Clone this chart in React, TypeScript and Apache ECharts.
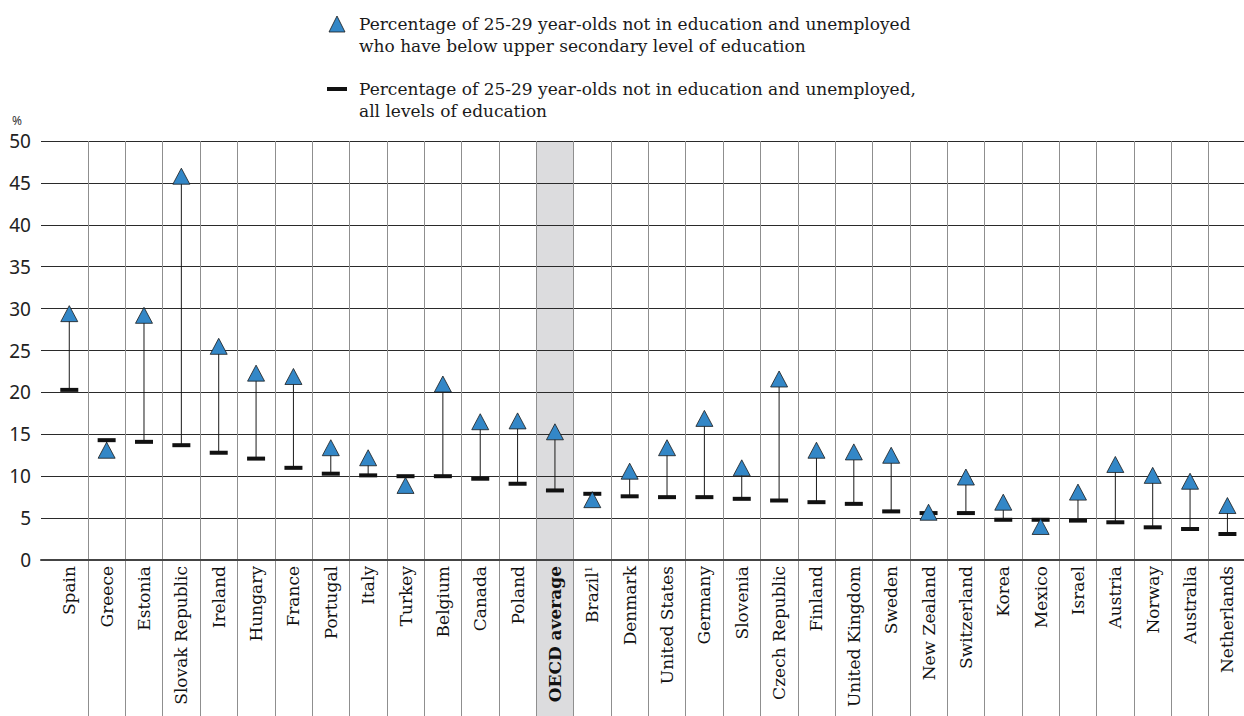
import React, { useEffect, useRef } from "react";
import * as echarts from "echarts";

const categories = [
  "Spain", "Greece", "Estonia", "Slovak Republic", "Ireland", "Hungary", "France",
  "Portugal", "Italy", "Turkey", "Belgium", "Canada", "Poland", "OECD average",
  "Brazil", "Denmark", "United States", "Germany", "Slovenia", "Czech Republic",
  "Finland", "United Kingdom", "Sweden", "New Zealand", "Switzerland", "Korea",
  "Mexico", "Israel", "Austria", "Norway", "Australia", "Netherlands",
];

const belowUpperSecondary = [
  29.4, 13.1, 29.2, 45.8, 25.5, 22.3, 21.9, 13.4, 12.2, 8.9, 21.0, 16.5, 16.6, 15.3,
  7.2, 10.6, 13.4, 16.9, 11.0, 21.6, 13.1, 12.9, 12.5, 5.7, 9.9, 6.9, 4.0, 8.1,
  11.4, 10.1, 9.4, 6.5,
];

const allLevels = [
  20.3, 14.3, 14.1, 13.7, 12.8, 12.1, 11.0, 10.3, 10.1, 10.0, 10.0, 9.7, 9.1, 8.3,
  7.9, 7.6, 7.5, 7.5, 7.3, 7.1, 6.9, 6.7, 5.8, 5.6, 5.6, 4.8, 4.8, 4.7,
  4.5, 3.9, 3.7, 3.1,
];

const yTicks = { min: 0, max: 50, interval: 5 };
const highlightCategory = "OECD average";
const footnoteCategory = "Brazil";

const legendText1 =
  "Percentage of 25-29 year-olds not in education and unemployed\nwho have below upper secondary level of education";
const legendText2 =
  "Percentage of 25-29 year-olds not in education and unemployed,\nall levels of education";

const SERIF = "'DejaVu Serif', 'Liberation Serif', serif";
const SANS = "'Noto Sans', 'Open Sans', sans-serif";
const BLUE = "#3387c7";

export default function App() {
  const ref = useRef<HTMLDivElement>(null);

  useEffect(() => {
    if (!ref.current) return;
    const chart = echarts.init(ref.current, null, { renderer: "svg" });

    const plotTop = 141;
    const zeroY = 560;
    const fullH = 716;
    const pxPerUnit = (zeroY - plotTop) / (yTicks.max - yTicks.min);
    const bottomExtent = -(fullH - zeroY) / pxPerUnit;

    const option: any = {
      animation: false,
      backgroundColor: "#ffffff",
      grid: [
        { left: 41, top: plotTop, width: 1205, height: zeroY - plotTop, containLabel: false, outerBoundsMode: "none" },
        { left: 50.6, top: plotTop, width: 1195.5, height: fullH - plotTop, containLabel: false, outerBoundsMode: "none" },
      ],
      xAxis: [
        {
          type: "value",
          gridIndex: 0,
          min: 0,
          max: 1,
          axisLabel: { show: false },
          axisTick: { show: false },
          splitLine: { show: false },
          axisLine: { show: true, lineStyle: { color: "#444", width: 2 } },
        },
        {
          type: "category",
          gridIndex: 1,
          position: "bottom",
          offset: -(fullH - zeroY),
          data: categories,
          boundaryGap: true,
          axisLine: { show: false, onZero: false },
          axisTick: { show: false },
          splitLine: {
            show: true,
            interval: (index: number) => index !== 0,
            lineStyle: { color: "#8f8f8f", width: 1 },
          },
          axisLabel: {
            interval: 0,
            rotate: 90,
            margin: 6,
            fontFamily: SERIF,
            fontSize: 17,
            color: "#111",
            formatter: (v: string) =>
              v === highlightCategory
                ? "{b|" + v + "}"
                : v === footnoteCategory
                ? v + "{sup|1}"
                : v,
            rich: {
              b: { fontFamily: SERIF, fontSize: 17, fontWeight: "bold", color: "#111" },
              sup: { fontFamily: SERIF, fontSize: 10, color: "#111", verticalAlign: "top", padding: [0, 0, 6, 0] },
            },
          },
        },
      ],
      yAxis: [
        {
          type: "value",
          gridIndex: 0,
          min: yTicks.min,
          max: yTicks.max,
          interval: yTicks.interval,
          axisLine: { show: false },
          axisTick: { show: false },
          axisLabel: { margin: 10, fontFamily: SANS, fontSize: 19, color: "#222" },
          splitLine: { show: true, lineStyle: { color: "#2a2a2a", width: 1 } },
        },
        {
          type: "value",
          gridIndex: 1,
          min: bottomExtent,
          max: yTicks.max,
          show: false,
          splitLine: { show: false },
        },
      ],
      series: [
        {
          name: "bandTop",
          type: "bar",
          xAxisIndex: 1,
          yAxisIndex: 1,
          stack: "band",
          barWidth: "100%",
          silent: true,
          z: -1,
          itemStyle: { color: "#dcdcde" },
          data: categories.map((c) => (c === highlightCategory ? yTicks.max : "-")),
        },
        {
          name: "bandBottom",
          type: "bar",
          xAxisIndex: 1,
          yAxisIndex: 1,
          stack: "band",
          barWidth: "100%",
          silent: true,
          z: -1,
          itemStyle: { color: "#dcdcde" },
          data: categories.map((c) => (c === highlightCategory ? bottomExtent : "-")),
        },
        {
          name: "connector",
          type: "custom",
          xAxisIndex: 1,
          yAxisIndex: 1,
          silent: true,
          z: 2,
          encode: { x: 0, y: [1, 2] },
          data: categories.map((c, i) => [i, allLevels[i], belowUpperSecondary[i]]),
          renderItem: (params: any, api: any) => {
            const x = api.value(0);
            const p1 = api.coord([x, api.value(1)]);
            const p2 = api.coord([x, api.value(2)]);
            return {
              type: "line",
              shape: { x1: p1[0], y1: p1[1], x2: p2[0], y2: p2[1] },
              style: { stroke: "#1a1a1a", lineWidth: 1 },
            };
          },
        },
        {
          name: "All levels",
          type: "scatter",
          xAxisIndex: 1,
          yAxisIndex: 1,
          symbol: "rect",
          symbolSize: [18, 4],
          z: 3,
          itemStyle: { color: "#111", opacity: 1 },
          data: allLevels,
        },
        {
          name: "Below upper secondary",
          type: "scatter",
          xAxisIndex: 1,
          yAxisIndex: 1,
          symbol: "triangle",
          symbolSize: [17, 16],
          z: 4,
          itemStyle: { color: BLUE, borderColor: "#1a1a1a", borderWidth: 0.8, opacity: 1 },
          data: belowUpperSecondary,
        },
      ],
      graphic: [
        {
          type: "polygon",
          shape: { points: [[329, 32], [345, 32], [337, 16]] },
          style: { fill: BLUE, stroke: "#1a1a1a", lineWidth: 0.8 },
        },
        {
          type: "text",
          x: 359,
          y: 13,
          style: {
            text: legendText1,
            fontFamily: SERIF,
            fontSize: 17,
            lineHeight: 22,
            fill: "#1a1a1a",
            textVerticalAlign: "top",
          },
        },
        {
          type: "rect",
          shape: { x: 327, y: 87, width: 20, height: 4 },
          style: { fill: "#111" },
        },
        {
          type: "text",
          x: 359,
          y: 78,
          style: {
            text: legendText2,
            fontFamily: SERIF,
            fontSize: 17,
            lineHeight: 22,
            fill: "#1a1a1a",
            textVerticalAlign: "top",
          },
        },
        {
          type: "text",
          x: 17,
          y: 120,
          style: {
            text: "%",
            fontFamily: SANS,
            fontSize: 12,
            fill: "#333",
            textAlign: "center",
            textVerticalAlign: "middle",
          },
        },
      ],
    };

    chart.setOption(option);
    return () => chart.dispose();
  }, []);

  return (
    <div
      ref={ref}
      style={{ position: "fixed", left: 0, top: 0, width: 1244, height: 716, background: "#fff" }}
    />
  );
}
